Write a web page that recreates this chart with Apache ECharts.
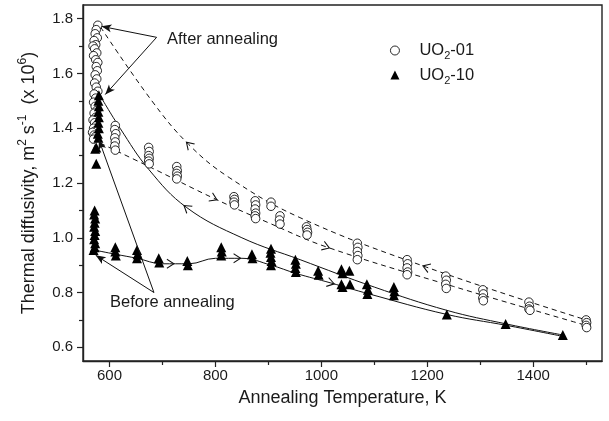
<!DOCTYPE html>
<html><head><meta charset="utf-8">
<script src="https://cdn.jsdelivr.net/npm/echarts@6/dist/echarts.min.js"></script>
<style>html,body{margin:0;padding:0;background:#fff}#c{width:609px;height:421px}</style>
</head><body><div id="c"></div>
<script>
// ---- data ----
const xTicks = [600, 800, 1000, 1200, 1400];
const xMinorTicks = [700, 900, 1100, 1300, 1500];
const yTicks = [0.6, 0.8, 1.0, 1.2, 1.4, 1.6, 1.8];
const yMinorTicks = [0.7, 0.9, 1.1, 1.3, 1.5, 1.7];

const uo2_01 = [
  [578,1.776],[575,1.76],[573,1.745],[577,1.73],[571,1.72],[574,1.705],[569,1.70],[572,1.69],[576,1.675],
  [570,1.665],[574,1.65],[578,1.64],[575,1.625],[577,1.61],[573,1.595],[576,1.58],[572,1.565],[575,1.55],
  [578,1.535],[571,1.525],[574,1.51],[570,1.495],[573,1.48],[576,1.465],[571,1.455],[574,1.44],[569,1.43],
  [572,1.42],[575,1.41],[570,1.40],[573,1.39],[568,1.385],[571,1.375],[574,1.37],[570,1.36],
  [611,1.41],[610,1.395],[612,1.38],[610,1.365],[611,1.35],[610,1.335],[611,1.32],
  [674,1.33],[675,1.315],[674,1.30],[675,1.29],[674,1.28],[675,1.27],
  [727,1.26],[728,1.245],[727,1.235],[728,1.225],[727,1.215],
  [835,1.15],[836,1.14],[835,1.13],[836,1.12],
  [875,1.135],[876,1.12],[875,1.105],[876,1.09],[875,1.08],[876,1.07],
  [905,1.13],[905,1.115],
  [922,1.08],[921,1.065],[922,1.05],
  [972,1.04],[973,1.03],[974,1.02],[973,1.01],
  [1068,0.98],[1069,0.965],[1068,0.95],[1069,0.935],[1068,0.92],
  [1162,0.92],[1163,0.905],[1162,0.89],[1163,0.875],[1162,0.865],
  [1235,0.86],[1236,0.845],[1235,0.83],[1236,0.815],
  [1305,0.81],[1306,0.795],[1305,0.78],[1306,0.77],
  [1392,0.765],[1393,0.75],[1392,0.74],[1394,0.735],
  [1500,0.70],[1501,0.69],[1500,0.68],[1501,0.672]
];
const uo2_10 = [
  [572,1.10],[571,1.085],[573,1.07],[572,1.055],[571,1.04],[573,1.025],[572,1.01],[571,0.995],[573,0.98],
  [572,0.965],[570,0.955],
  [575,1.27],[575,1.33],[573,1.325],
  [580,1.52],[579,1.50],[580,1.48],[579,1.46],[580,1.44],[579,1.42],[580,1.40],[578,1.38],[579,1.365],
  [611,0.965],[611,0.95],[612,0.935],
  [652,0.955],[653,0.94],[652,0.925],
  [693,0.925],[694,0.91],
  [747,0.915],[748,0.90],
  [811,0.965],[812,0.95],[811,0.935],
  [869,0.94],[870,0.925],
  [905,0.96],[904,0.945],[905,0.93],[906,0.915],[905,0.90],
  [951,0.92],[952,0.905],[951,0.89],[952,0.875],
  [994,0.88],[995,0.865],
  [1038,0.885],[1040,0.87],[1038,0.83],[1040,0.82],
  [1053,0.88],[1054,0.83],
  [1086,0.83],[1088,0.81],[1087,0.795],
  [1137,0.82],[1138,0.805],[1137,0.79],
  [1237,0.72],
  [1348,0.685],
  [1456,0.645]
];

// guide curves
const dashUpper = [[583,1.77],[680,1.50],[750,1.34],[826,1.22],[958,1.075],[1198,0.893],[1500,0.70]];
const dashLower = [[583,1.345],[680,1.255],[797,1.144],[900,1.055],[1009,0.967],[1250,0.822],[1500,0.68]];
const solidUpper = [[582,1.52],[620,1.40],[674,1.25],[746,1.11],[850,1.00],[960,0.92],[1100,0.82],[1237,0.735],[1350,0.685],[1456,0.645]];
const solidLower = [[572,0.955],[611,0.94],[652,0.925],[700,0.905],[750,0.905],[800,0.925],[850,0.925],[905,0.90],[952,0.87],[1018,0.835],[1090,0.795],[1237,0.72],[1350,0.68],[1456,0.64]];

// direction arrows on curves: [curve, temperature, direction]
const curveArrows = [
  ['dashUpper', 750, -1], ['dashUpper', 1198, -1],
  ['dashLower', 797, 1], ['dashLower', 1009, 1],
  ['solidUpper', 746, -1],
  ['solidLower', 715, 1], ['solidLower', 841, 1], ['solidLower', 1018, 1]
];

// annotation pointers: [from, to]
const afterPointers = [[[689, 1.732], [585, 1.772]], [[689, 1.732], [592, 1.523]]];
const beforePointers = [[[684, 0.80], [574, 0.936]], [[684, 0.80], [580, 1.358]]];

// ---- chart ----
const FONT = "'Liberation Sans', Arial, sans-serif";
const TXT = '#1a1a1a';
const curves = {dashUpper, dashLower, solidUpper, solidLower};
function interp(c, t) {
  for (let i = 0; i < c.length - 1; i++) {
    if (t >= c[i][0] && t <= c[i+1][0]) {
      const f = (t - c[i][0]) / (c[i+1][0] - c[i][0]);
      return c[i][1] + f * (c[i+1][1] - c[i][1]);
    }
  }
  return c[c.length-1][1];
}
const chart = echarts.init(document.getElementById('c'), null, {renderer: 'canvas'});
const xMin = 550, xMax = 1530, yMin = 0.55, yMax = 1.85;

function lineSeries(name, data, dashed) {
  return {
    name, type: 'line', data, smooth: 0.4, showSymbol: false, silent: true, z: 1,
    lineStyle: {color: '#111', width: 1, type: dashed ? [5, 4] : 'solid'}
  };
}
function pointers(list) {
  return list.map(p => [{coord: p[0]}, {coord: p[1]}]);
}

const option = {
  animation: false,
  backgroundColor: '#fff',
  textStyle: {fontFamily: FONT},
  grid: {left: 83, right: 7, top: 5, bottom: 60, show: true, borderColor: '#222', borderWidth: 1.4, backgroundColor: 'transparent'},
  legend: {
    orient: 'vertical', left: 385, top: 37, itemGap: 5, itemWidth: 9, itemHeight: 9,
    data: [
      {name: 'UO2-01', itemStyle: {color: '#fff', borderColor: '#111', borderWidth: 0.9}},
      {name: 'UO2-10', itemStyle: {color: '#000', borderWidth: 0}}
    ],
    formatter: n => n === 'UO2-01' ? '{g|}{a|UO}{s|2}{a|-01}' : '{g|}{a|UO}{s|2}{a|-10}',
    textStyle: {
      fontFamily: FONT, color: TXT,
      rich: {
        g: {width: 15},
        a: {fontSize: 16.5, lineHeight: 22, fontFamily: FONT, color: TXT},
        s: {fontSize: 11, lineHeight: 12, verticalAlign: 'bottom', fontFamily: FONT, color: TXT}
      }
    }
  },
  xAxis: [{
    type: 'value', min: xMin, max: xMax, position: 'bottom',
    name: 'Annealing Temperature, K', nameLocation: 'middle', nameGap: 28,
    nameTextStyle: {fontSize: 18, color: TXT, fontFamily: FONT},
    axisLine: {show: true, onZero: false, lineStyle: {color: '#222', width: 1.4}},
    axisTick: {show: true, inside: false, length: 6, customValues: xTicks, lineStyle: {color: '#222', width: 1.2}},
    axisLabel: {show: true, customValues: xTicks, margin: 7, fontSize: 15, color: TXT, fontFamily: FONT,
      formatter: v => String(Math.round(v))},
    splitLine: {show: false}
  }, {
    type: 'value', min: xMin, max: xMax, position: 'bottom', gridIndex: 0,
    axisLine: {show: false, onZero: false},
    axisTick: {show: true, inside: false, length: 4, customValues: xMinorTicks, lineStyle: {color: '#222', width: 1.2}},
    axisLabel: {show: false}, splitLine: {show: false}
  }],
  yAxis: [{
    type: 'value', min: yMin, max: yMax, position: 'left',
    name: '{t|Thermal diffusivity, m}{p|2}{t| s}{p|-1}{t|  (x 10}{p|6}{t|)}',
    nameLocation: 'middle', nameRotate: 90, nameGap: 42,
    nameTextStyle: {
      color: TXT, fontFamily: FONT,
      rich: {
        t: {fontSize: 18, lineHeight: 24, fontFamily: FONT, color: TXT},
        p: {fontSize: 12, lineHeight: 13, verticalAlign: 'top', fontFamily: FONT, color: TXT}
      }
    },
    axisLine: {show: true, onZero: false, lineStyle: {color: '#222', width: 1.4}},
    axisTick: {show: true, inside: false, length: 6, customValues: yTicks, lineStyle: {color: '#222', width: 1.2}},
    axisLabel: {show: true, customValues: yTicks, margin: 10, fontSize: 15, color: TXT, fontFamily: FONT,
      formatter: v => Number(v).toFixed(1)},
    splitLine: {show: false}
  }, {
    type: 'value', min: yMin, max: yMax, position: 'left', offset: 0, gridIndex: 0,
    axisLine: {show: false, onZero: false},
    axisTick: {show: true, inside: false, length: 4, customValues: yMinorTicks, lineStyle: {color: '#222', width: 1.2}},
    axisLabel: {show: false}, splitLine: {show: false}
  }],
  graphic: [
    {type: 'text', left: 167, top: 31, style: {text: 'After annealing', fontSize: 16.5, fontFamily: FONT, fill: TXT}},
    {type: 'text', left: 110, top: 294, style: {text: 'Before annealing', fontSize: 16.5, fontFamily: FONT, fill: TXT}}
  ],
  series: [
    lineSeries('dashUpperLine', dashUpper, true),
    lineSeries('dashLowerLine', dashLower, true),
    lineSeries('solidUpperLine', solidUpper, false),
    Object.assign(lineSeries('solidLowerLine', solidLower, false), {
      markLine: {
        silent: true, symbol: ['none', 'arrow'], symbolSize: [6, 10], animation: false,
        label: {show: false},
        lineStyle: {color: '#111', width: 1, type: 'solid'},
        emphasis: {disabled: true},
        data: pointers(afterPointers).concat(pointers(beforePointers))
      }
    }),
    {
      name: 'UO2-01', type: 'scatter', data: uo2_01, symbol: 'circle', symbolSize: 8.5, z: 3,
      itemStyle: {color: '#fff', borderColor: '#111', borderWidth: 0.9, opacity: 1}
    },
    {
      name: 'UO2-10', type: 'scatter', data: uo2_10, symbol: 'triangle', symbolSize: 10, z: 4,
      itemStyle: {color: '#000', opacity: 1}
    },
    {
      name: 'arrows', type: 'scatter', data: [], symbol: 'path://M0,0L10,5L0,10', symbolSize: [7, 9], z: 5,
      silent: true, itemStyle: {color: 'rgba(0,0,0,0)', borderColor: '#111', borderWidth: 1, opacity: 1}
    }
  ]
};
chart.setOption(option);

// rotate arrow heads along the curves
const arrowData = curveArrows.map(([cname, t, dir]) => {
  const c = curves[cname];
  const v = interp(c, t);
  const p0 = chart.convertToPixel({xAxisIndex: 0, yAxisIndex: 0}, [t - 8, interp(c, t - 8)]);
  const p1 = chart.convertToPixel({xAxisIndex: 0, yAxisIndex: 0}, [t + 8, interp(c, t + 8)]);
  let dx = (p1[0] - p0[0]) * dir, dy = (p1[1] - p0[1]) * dir;
  const ang = Math.atan2(-dy, dx) * 180 / Math.PI;
  return {value: [t, v], symbolRotate: ang};
});
chart.setOption({series: [{}, {}, {}, {}, {}, {}, {data: arrowData}]});
</script>
</body></html>
